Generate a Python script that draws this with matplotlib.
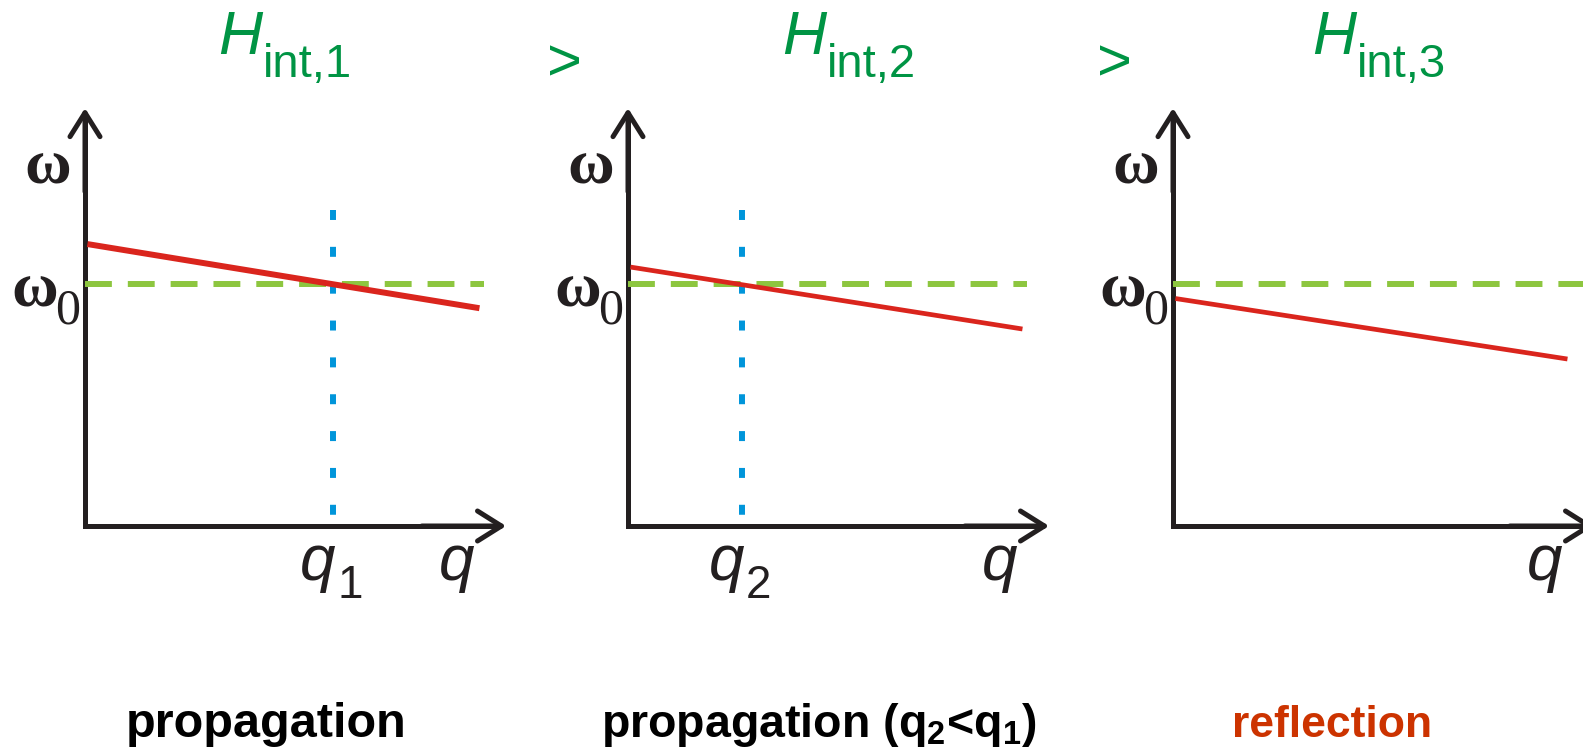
import matplotlib
matplotlib.use("Agg")
import matplotlib.pyplot as plt

# ---- data (units: omega0 = 1, q in the same scale) ----
panel_subs = ["int,1", "int,2", "int,3"]
omega0 = 1.0
red_q = [0.01, 1.63]                     # q range of the red branch
red_w_start = [1.165, 1.07, 0.94]         # omega at q = 0
red_w_end = [0.90, 0.814, 0.69]           # omega at q end
q_cross = [1.025, 0.47, None]             # blue dotted crossing point
q_cross_labels = ["1", "2", None]
green_end = [1.65, 1.65, 1.80]
axis_top = 1.727
axis_right = 1.74
dot_top = 1.306
bottom_labels = ["propagation", "propagation (q$_\\mathbf{2}$<q$_\\mathbf{1}$)", "reflection"]
bottom_colors = ["#000000", "#000000", "#cc3300"]

# ---- styling ----
W, H = 1583, 748
UNIT = 242
origins = [(85, 526), (628, 526), (1173, 526)]
BLACK = "#231f20"
RED = "#da251d"
GREEN = "#8dc63f"
BLUE = "#0095da"
TITLE_GREEN = "#009444"

plt.rcParams["mathtext.fontset"] = "custom"
plt.rcParams["mathtext.rm"] = "Liberation Sans"
plt.rcParams["mathtext.it"] = "Liberation Sans:italic"
plt.rcParams["mathtext.bf"] = "Liberation Sans:bold"

fig = plt.figure(figsize=(W / 100, H / 100), dpi=100)


def fx(px):
    return px / W


def fy(py):
    return 1 - py / H


red_lw = [4.3, 3.4, 3.4]

for i, (ox, oy) in enumerate(origins):
    ax = fig.add_axes([0, 0, 1, 1])
    ax.set_xlim(-ox / UNIT, (W - ox) / UNIT)
    ax.set_ylim(-(H - oy) / UNIT, oy / UNIT)
    ax.axis("off")
    ax.patch.set_alpha(0)

    # axes with open arrow heads
    ax.plot([0, 0, axis_right - 0.02], [axis_top - 0.02, 0, 0], color=BLACK,
            lw=3.6, solid_joinstyle="miter", solid_capstyle="butt")
    for tip in [(0, axis_top), (axis_right, 0)]:
        ax.annotate("", xy=tip, xytext=(tip[0] * 0.8, tip[1] * 0.8),
                    arrowprops=dict(arrowstyle="->,head_length=0.86,head_width=0.54",
                                    lw=3.6, color=BLACK, mutation_scale=20,
                                    shrinkA=0, shrinkB=0), annotation_clip=False)

    # omega0 dashed
    ax.plot([0, green_end[i]], [omega0, omega0], color=GREEN, lw=4.3,
            dashes=(4.5, 2.67), solid_capstyle="butt", dash_capstyle="butt")

    # blue dotted
    if q_cross[i] is not None:
        ax.plot([q_cross[i], q_cross[i]], [dot_top, 0.0], color=BLUE, lw=4.3,
                dashes=(1.67, 4.5), dash_capstyle="butt")

    # red branch
    ax.plot(red_q, [red_w_start[i], red_w_end[i]], color=RED, lw=red_lw[i],
            solid_capstyle="butt")

    # axis labels
    fig.text(fx(ox - 37), fy(184), "ω", family="Liberation Serif", fontsize=46,
             fontweight="bold", ha="center", va="baseline", color=BLACK)
    fig.text(fx(ox - 50), fy(306), "ω", family="Liberation Serif", fontsize=46,
             fontweight="bold", ha="center", va="baseline", color=BLACK)
    fig.text(fx(ox - 30), fy(323), "0", family="Liberation Serif", fontsize=36,
             ha="left", va="baseline", color=BLACK)
    fig.text(fx(ox + 354), fy(580), "q", family="Liberation Sans", style="italic",
             fontsize=46, ha="left", va="baseline", color=BLACK)
    if q_cross[i] is not None:
        qx = ox + q_cross[i] * UNIT
        fig.text(fx(qx - 33), fy(580), "q", family="Liberation Sans", style="italic",
                 fontsize=46, ha="left", va="baseline", color=BLACK)
        fig.text(fx(qx + 4), fy(598), q_cross_labels[i], family="Liberation Sans",
                 fontsize=33, ha="left", va="baseline", color=BLACK)

# titles
title_left = [218, 782, 1312]
for i, sub in enumerate(panel_subs):
    fig.text(fx(title_left[i]), fy(54), "H", family="Liberation Sans", style="italic",
             fontsize=44, ha="left", va="baseline", color=TITLE_GREEN)
    fig.text(fx(title_left[i] + 45), fy(77), sub, family="Liberation Sans",
             fontsize=34, ha="left", va="baseline", color=TITLE_GREEN)

for gx in [564, 1114]:
    fig.text(fx(gx), fy(80), ">", family="Liberation Sans", fontsize=43,
             ha="center", va="baseline", color=TITLE_GREEN)

# bottom captions
bottom_left = [126, 601, 1232]
bottom_size = [35, 33.5, 32]
for i, lab in enumerate(bottom_labels):
    fig.text(fx(bottom_left[i]), fy(737), lab, family="Liberation Sans",
             fontweight="bold", fontsize=bottom_size[i], ha="left", va="baseline",
             color=bottom_colors[i])

fig.savefig("out.png", dpi=100)
